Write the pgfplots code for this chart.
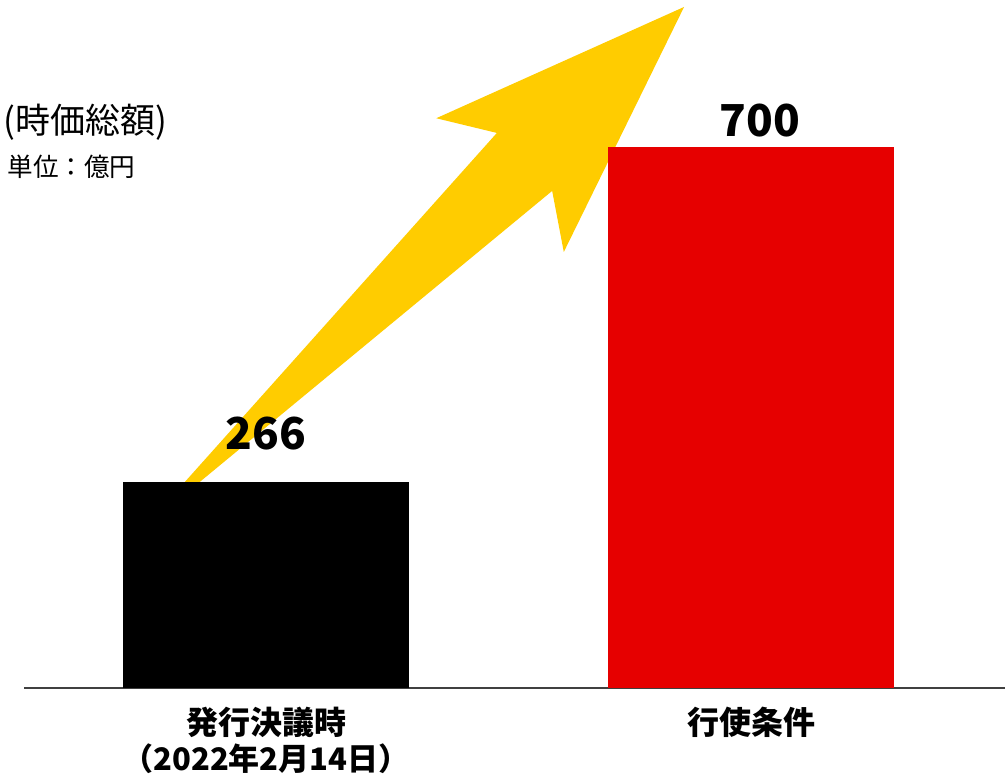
\documentclass[border=0pt]{standalone}
\usepackage{pgfplots}
\pgfplotsset{compat=1.18}
\usepackage{fontspec}
\setmainfont{Noto Sans CJK JP}
\definecolor{arrowyellow}{HTML}{FFCC00}
\definecolor{barred}{HTML}{E60000}
\definecolor{axisgray}{HTML}{404040}

\begin{document}
\begin{tikzpicture}
\begin{axis}[
  scale only axis,
  width=490.5pt, height=344pt,
  xmin=-0.499, xmax=1.5237,
  ymin=0, ymax=890,
  axis x line=bottom, axis y line=none,
  x axis line style={-, line width=1pt, color=axisgray},
  xtick={0,1},
  xticklabels={{発行決議時\\{\fontsize{15.5}{18}\selectfont（2022年2月14日）}},{行使条件}},
  xticklabel style={font=\fontsize{16}{18}\selectfont\bfseries, align=center,
    anchor=north, inner sep=0pt, yshift=-9.5pt},
  major tick length=0pt,
  ytick=\empty,
  clip=false,
  bar width=143pt,
  /pgf/number format/assume math mode=true,
  /pgf/number format/fixed, /pgf/number format/precision=0,
]
% decorative arrow
\addplot[fill=arrowyellow, draw=none] coordinates {
  (-0.254,205.7) (0.590,643) (0.614,564) (0.862,881) (0.351,737) (0.476,718)
} -- cycle;

\addplot[ybar, bar shift=0pt, fill=black, draw=none,
  nodes near coords,
  every node near coord/.append style={inner sep=0pt, yshift=16pt,
    font=\fontsize{22}{22}\selectfont\bfseries}]
  coordinates {(0,266)};

\addplot[ybar, bar shift=0pt, fill=barred, draw=none,
  nodes near coords,
  every node near coord/.append style={inner sep=0pt, yshift=4.5pt, xshift=4.5pt,
    font=\fontsize{22}{22}\selectfont\bfseries}]
  coordinates {(1,700)};

\node[anchor=east, inner sep=0pt, font=\fontsize{17.5}{19}\selectfont]
  at (axis cs:-0.202,732) {(時価総額)};
\node[anchor=west, inner sep=0pt, font=\fontsize{12.8}{14}\selectfont]
  at (axis cs:-0.534,674) {単位：億円};

\coordinate (bbSW) at (axis cs:-0.5485,-112.5);
\coordinate (bbNE) at (axis cs:1.5237,890);
\end{axis}
\pgfresetboundingbox
\path[use as bounding box] (bbSW) rectangle (bbNE);
\end{tikzpicture}
\end{document}
